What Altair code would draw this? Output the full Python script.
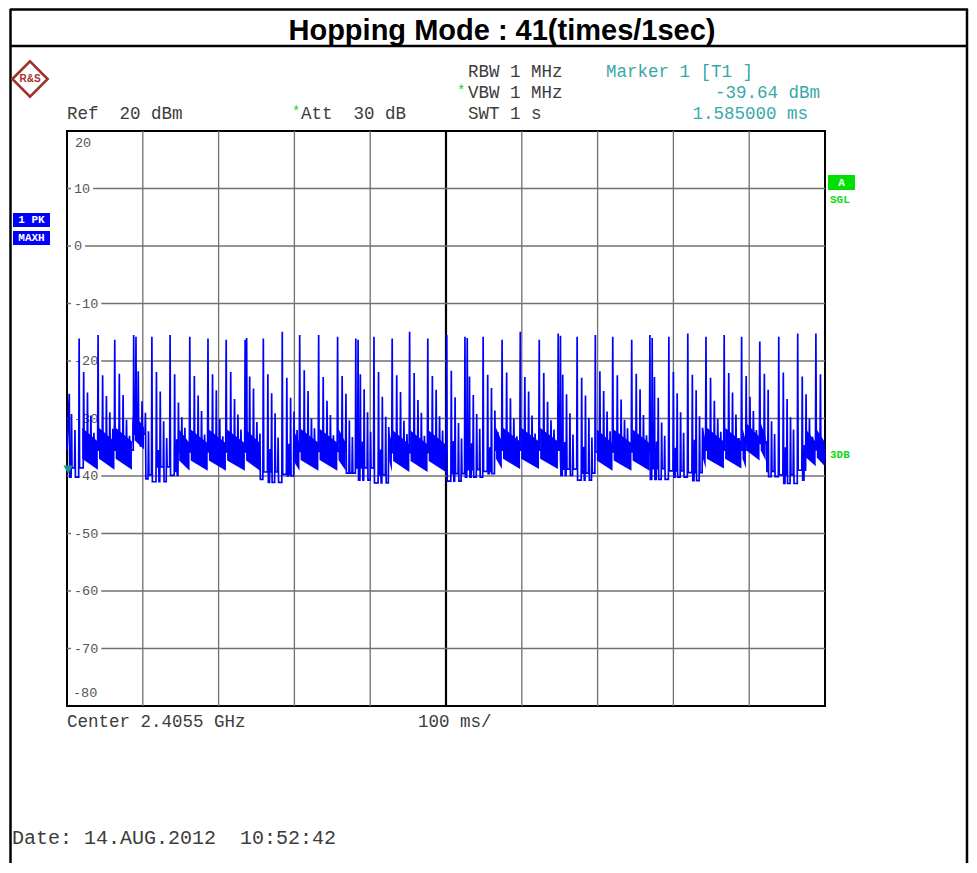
import altair as alt
import pandas as pd

# ---------------- data ----------------
# tall hop spikes (time in ms, level in dBm)
hop_ms = [16, 41, 63, 88, 112, 136, 162, 186, 210, 235, 259, 284, 307, 332, 357, 381, 405,
          429, 452, 476, 501, 525, 549, 574, 598, 623, 648, 673, 697, 720, 745, 769, 794,
          819, 843, 867, 890, 914, 939, 964, 988]
peak_db = [-16.1, -15.5, -16.3, -15.5, -15.8, -15.5, -15.8, -16.1, -16.3, -16.3, -16.1,
           -14.9, -15.5, -15.5, -15.8, -16.1, -15.8, -16.1, -14.9, -16.1, -15.5, -15.8,
           -15.8, -16.3, -14.9, -16.3, -15.2, -15.8, -15.5, -15.8, -16.3, -15.5, -15.8,
           -15.2, -15.8, -15.5, -15.8, -16.6, -15.8, -15.2, -15.2]
# second tall spike where a hop is doubled
twin_ms = [91, 237, 384, 528, 651, 772]
twin_db = [-15.8, -16.0, -16.3, -16.0, -15.6, -16.0]
# smaller spikes following every hop (delay after the hop, ms)
sub_offset_ms = [6, 8.8, 11, 15.5, 19.5]
sub1_db = [-21.9, -22.5, -22.2, -21.8, -21.9, -22.3, -22.6, -22.3, -21.9, -22.7, -22.3,
           -22.9, -21.6, -22.8, -22.6, -22.3, -21.9, -22.5, -22.1, -22.6, -21.7, -22.7,
           -22.4, -22.0, -22.8, -22.1, -22.4, -22.9, -21.8, -22.5, -22.2, -22.8, -21.9,
           -22.4, -22.9, -22.1, -22.6, -22.2, -22.0, -22.7, -22.3]
low_db = [-34.5, -35.2, -33.8, -34.9, -35.5, -33.6, -34.2, -35.0, -34.7, -33.9, -35.3,
          -34.4, -33.7, -35.1, -34.8, -34.0, -35.4, -33.5, -34.6, -35.2, -33.9, -34.3,
          -35.0, -34.7, -33.8, -35.5, -34.1, -34.9, -33.6, -35.3, -34.4, -34.0, -35.1,
          -33.7, -34.8, -35.4, -34.2, -33.9, -35.0, -34.6, -34.3]
sub2_db = [-25.5, -26.1, -25.9, -27.0, -25.3, -27.2, -26.0, -25.1, -26.6, -24.8, -25.6,
           -26.4, -25.2, -26.9, -25.7, -24.9, -26.2, -25.4, -26.8, -25.0, -26.3, -25.9,
           -24.7, -26.5, -25.3, -27.1, -25.8, -26.0, -25.2, -26.7, -24.9, -26.4, -25.6,
           -25.1, -26.9, -25.5, -26.2, -25.0, -26.6, -25.8, -25.3]
sub3_db = [-29.5, -28.9, -30.2, -29.0, -30.5, -29.8, -28.7, -30.1, -29.3, -30.6, -29.1,
           -28.8, -30.0, -29.4, -30.3, -28.9, -29.7, -30.4, -29.0, -29.6, -30.8, -29.2,
           -28.6, -30.0, -29.5, -30.3, -29.1, -29.9, -28.8, -30.2, -29.4, -30.7, -28.9,
           -29.6, -30.1, -29.3, -28.7, -30.5, -29.8, -30.0, -29.2]
sub4_db = [-32.5, -31.8, -33.0, -32.2, -33.4, -31.6, -32.8, -33.1, -31.9, -32.6, -33.3,
           -32.0, -31.7, -32.9, -33.2, -32.3, -31.5, -32.7, -33.0, -32.1, -33.5, -31.8,
           -32.4, -33.1, -32.6, -31.9, -32.8, -33.3, -32.2, -31.7, -32.9, -33.0, -32.5,
           -31.6, -32.3, -33.4, -32.0, -32.7, -31.9, -33.2, -32.6]
# valley depths in the sparse stretches (alternating valleys of each hop)
dip_a_db = [-40.2, -40.8, -39.6, -40.5, -41.0, -39.9, -40.4, -40.9, -39.7, -40.6, -41.1,
            -40.0, -40.3, -40.8, -39.5, -40.7, -41.2, -40.1, -39.8, -40.6, -40.9, -40.2,
            -39.6, -40.5, -41.0, -40.3, -39.9, -40.7, -40.4, -41.1, -39.7, -40.6, -40.2,
            -40.8, -39.5, -40.5, -41.0, -40.1, -41.3, -40.7, -40.0]
dip_b_db = [-38.6, -39.4, -38.9, -39.8, -38.4, -39.2, -39.6, -38.7, -39.9, -38.5, -39.3,
            -39.7, -38.8, -39.1, -39.5, -38.6, -39.8, -39.0, -38.7, -39.4, -39.6, -38.9,
            -39.2, -38.5, -39.7, -39.0, -38.8, -39.5, -38.6, -39.3, -39.9, -38.7, -39.1,
            -39.4, -38.9, -39.6, -38.5, -39.2, -39.8, -39.0, -38.8]
# spikes before the first hop
lead_ms = [3, 6, 10.5]
lead_db = [-25.7, -29.2, -32.0]
trace_start_db = -35.5
trace_end_db = -37.0
# dense noise band segments; each hop inside forms a block sloping downwards
band_start_ms = [20, 86, 148, 298, 425, 566, 699, 839, 896, 975]
band_end_ms = [86, 102, 255, 368, 500, 650, 769, 896, 922, 1000]
band_top_start_db = [-31.6, -29.3, -31.9, -31.8, -32.1, -31.6, -31.9, -31.6, -30.8, -31.9]
band_top_end_db = [-34.0, -31.6, -34.3, -34.2, -34.5, -34.0, -34.3, -34.0, -33.2, -34.1]
band_bot_start_db = [-37.0, -33.8, -37.3, -37.2, -37.4, -37.0, -37.3, -37.0, -35.5, -36.8]
band_bot_end_db = [-38.9, -35.4, -39.1, -39.1, -39.3, -38.8, -39.1, -38.7, -37.3, -38.3]
# sparse stretches where the trace falls to the floor
gap_start_ms = [0, 102, 255, 368, 500, 650, 769, 922]
gap_end_ms = [20, 148, 298, 425, 566, 699, 839, 975]
# marker
marker_ms = [1.585]
marker_db = [-38.9]
# axis
x_grid_ms = [100, 200, 300, 400, 600, 700, 800, 900]
center_ms = [500]
y_grid_db = [10, 0, -10, -20, -30, -40, -50, -60, -70]
y_labels = ["10", "0", "-10", "-20", "-30", "-40", "-50", "-60", "-70"]

# ---------------- build tables ----------------
W, H = 758, 575
PX_PER_MS = W / 1000.0
NB = "\u00a0"


def band_base(t):
    for s, e, a, b in zip(band_start_ms, band_end_ms, band_top_end_db, band_bot_start_db):
        if s <= t < e:
            return (a + b) / 2
    return None


# events: (time, peak, hop index)
events = [(t, v, 0) for t, v in zip(lead_ms, lead_db)]
events += [(t, v, i) for i, (t, v) in enumerate(zip(hop_ms, peak_db))]
events += [(t, v, hop_ms.index(max(h for h in hop_ms if h <= t))) for t, v in zip(twin_ms, twin_db)]
for off, arr in zip(sub_offset_ms, [sub1_db, low_db, sub2_db, sub3_db, sub4_db]):
    for i, (t0, v) in enumerate(zip(hop_ms, arr)):
        if t0 + off < 999:
            events.append((t0 + off, v, i))
events.sort()

HW = 0.6
rows = [(0.0, trace_start_db)]
for k, (t, v, i) in enumerate(events):
    rows.append((t, v))
    t_next = events[k + 1][0] if k + 1 < len(events) else 1000.0
    mid = (t + t_next) / 2
    b = band_base(mid)
    if b is None:
        b = dip_a_db[i] if k % 2 == 0 else dip_b_db[i]
    rows.append((min(t + HW, mid), b))
    rows.append((max(t_next - HW, mid), b))
rows.append((1000.0, trace_end_db))
trace = pd.DataFrame(rows, columns=["t", "db"])
trace["i"] = range(len(trace))

blocks = []
bid = 0
for s, e, ts, te, bs, be in zip(band_start_ms, band_end_ms, band_top_start_db, band_top_end_db,
                                band_bot_start_db, band_bot_end_db):
    cuts = [s] + [h for h in hop_ms if s < h < e] + [e]
    for a, b in zip(cuts[:-1], cuts[1:]):
        a1 = a + 1.2 if a != s else a
        blocks.append((bid, a1, ts, bs))
        blocks.append((bid, b - 0.3, te, be))
        bid += 1
blk = pd.DataFrame(blocks, columns=["g", "t", "top", "bot"])

lab = pd.DataFrame({"v": y_grid_db, "lab": y_labels})
lab["x1"] = 4 / PX_PER_MS
lab["x2"] = [(7 + 8.1 * len(s) + 3) / PX_PER_MS for s in y_labels]
lab["lo"] = lab["v"] - 1.2
lab["hi"] = lab["v"] + 1.2

xs = alt.Scale(domain=[0, 1000], nice=False, zero=False)
ys = alt.Scale(domain=[-80, 20], nice=False, zero=False)
MONO = "Liberation Mono"
GRAY = "#3c3c3c"
TEAL = "#38a8a8"
GREEN = "#10d810"
BLUE = "#0000ff"
GRID = "#707070"
FS = 17.5


def one():
    return pd.DataFrame({"k": [0]})


def note(text, px, py, color=GRAY, size=FS, align="left", font=MONO, weight="normal"):
    return alt.Chart(pd.DataFrame({"s": [text.replace(" ", NB)]})).mark_text(
        align=align, baseline="middle", font=font, fontSize=size, fontWeight=weight, color=color
    ).encode(text="s:N", x=alt.value(px), y=alt.value(py))


def box(x1, x2, y1, y2, color):
    return alt.Chart(one()).mark_rect(color=color).encode(
        x=alt.value(x1), x2=alt.value(x2), y=alt.value(y1), y2=alt.value(y2))


def line(x1, x2, y1, y2, width, color="black"):
    return alt.Chart(one()).mark_rule(color=color, strokeWidth=width).encode(
        x=alt.value(x1), x2=alt.value(x2), y=alt.value(y1), y2=alt.value(y2))


vgrid = alt.Chart(pd.DataFrame({"t": x_grid_ms})).mark_rule(color=GRID, strokeWidth=1.3).encode(
    x=alt.X("t:Q", scale=xs, axis=None))
cgrid = alt.Chart(pd.DataFrame({"t": center_ms})).mark_rule(color="black", strokeWidth=2.2).encode(
    x=alt.X("t:Q", scale=xs, axis=None))
hgrid = alt.Chart(pd.DataFrame({"v": y_grid_db})).mark_rule(color=GRID, strokeWidth=1.3).encode(
    y=alt.Y("v:Q", scale=ys, axis=None))
gaps = alt.Chart(lab).mark_rect(color="white").encode(
    x=alt.X("x1:Q", scale=xs, axis=None), x2="x2:Q",
    y=alt.Y("lo:Q", scale=ys, axis=None), y2="hi:Q")
labels = alt.Chart(lab).mark_text(align="left", baseline="middle", font=MONO, fontSize=13.5,
                                  color="#555555").encode(
    x=alt.value(7), y=alt.Y("v:Q", scale=ys, axis=None), text="lab:N")
band = alt.Chart(blk).mark_area(color=BLUE, opacity=1).encode(
    x=alt.X("t:Q", scale=xs, axis=None),
    y=alt.Y("top:Q", scale=ys, axis=None), y2="bot:Q", detail="g:N")
tr = alt.Chart(trace).mark_line(color=BLUE, strokeWidth=1.7).encode(
    x=alt.X("t:Q", scale=xs, axis=None), y=alt.Y("db:Q", scale=ys, axis=None), order="i:Q")
mk = alt.Chart(pd.DataFrame({"t": marker_ms, "db": marker_db})).mark_point(
    shape="triangle-down", filled=True, color="#149a8a", size=90, opacity=1).encode(
    x=alt.X("t:Q", scale=xs, axis=None), y=alt.Y("db:Q", scale=ys, axis=None))

layers = [
    vgrid, cgrid, hgrid, gaps, labels,
    note("20", 8, 12, color="#555555", size=13.5),
    note("-80", 6, 562, color="#555555", size=13.5),
    band, tr, mk,
    # page frame
    line(-56.5, -56.5, -122, 742, 2.5),
    line(900, 900, -122, 742, 2.5),
    line(-57, 901, -121.5, -121.5, 2.5),
    line(-57, 901, -85, -85, 2.5),
    note("Hopping Mode : 41(times/1sec)", 435, -100, color="black", size=29,
         align="center", font="Liberation Sans", weight="bold"),
    # logo
    alt.Chart(one()).mark_point(shape="diamond", filled=False, color="#a03028", strokeWidth=2.5,
                                size=1250, opacity=1).encode(x=alt.value(-37), y=alt.value(-52)),
    note("R&S", -37, -52, color="#a03028", size=10, align="center",
         font="Liberation Sans", weight="bold"),
    # header
    note("RBW 1 MHz", 401, -59),
    note("*", 390, -40, color=GREEN, size=14),
    note("VBW 1 MHz", 401, -38),
    note("SWT 1 s", 401, -17),
    note("Ref  20 dBm", 0, -17),
    note("*", 225, -19, color=GREEN, size=14),
    note("Att  30 dB", 234, -17),
    note("Marker 1 [T1 ]", 539, -59, color=TEAL),
    note("-39.64 dBm", 753, -38, color=TEAL, align="right"),
    note("1.585000 ms", 741, -17, color=TEAL, align="right"),
    # side boxes
    box(-54, -17, 82, 96, BLUE),
    box(-54, -17, 100, 114, BLUE),
    note("1 PK", -35.5, 89, color="white", size=11, align="center", weight="bold"),
    note("MAXH", -35.5, 107, color="white", size=11, align="center", weight="bold"),
    box(761, 788, 44, 59, "#00e000"),
    note("A", 774.5, 51.5, color="white", size=11, align="center", weight="bold"),
    note("SGL", 763, 69, color=GREEN, size=11, weight="bold"),
    note("3DB", 763, 324, color=GREEN, size=11, weight="bold"),
    # footer
    note("Center 2.4055 GHz", 0, 591),
    note("100 ms/", 351, 591),
    note("Date: 14.AUG.2012  10:52:42", -55, 707, size=20),
]

chart = alt.layer(*layers).properties(
    width=W, height=H,
    padding={"left": 59, "top": 123, "right": 144, "bottom": 157},
    autosize="none",
).configure_view(stroke="black", strokeWidth=2)

chart.save("out.html", embed_options={"renderer": "svg", "actions": False})
